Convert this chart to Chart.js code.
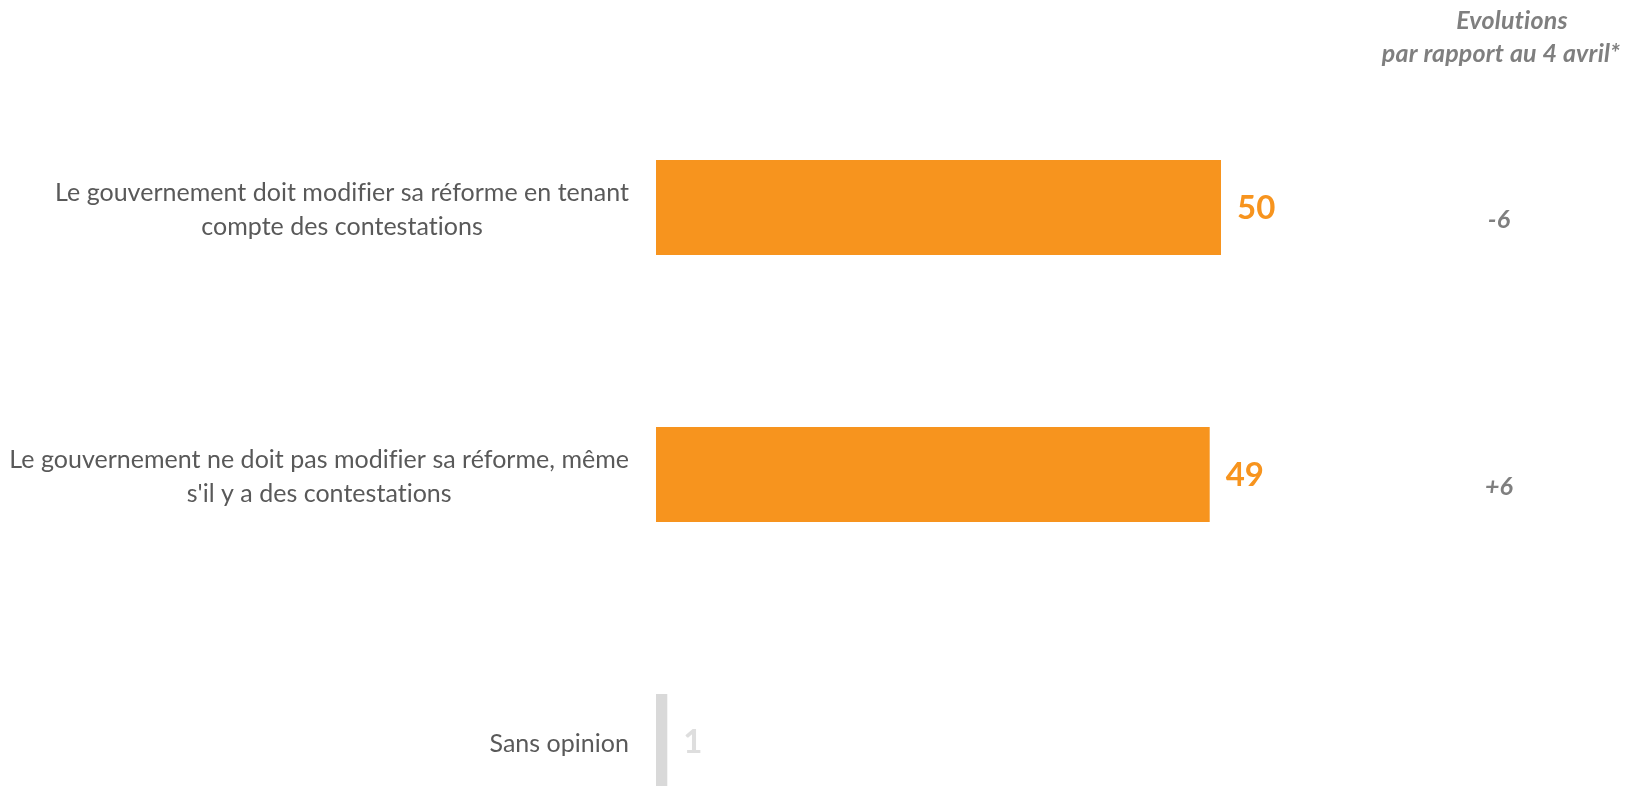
<!DOCTYPE html>
<html>
<head>
<meta charset="utf-8">
<script src="https://cdn.jsdelivr.net/npm/chart.js@4.4.1/dist/chart.umd.min.js"></script>
<style>
  html, body { margin: 0; padding: 0; background: #ffffff; overflow: hidden; }
  #wrap { position: relative; width: 1628px; height: 900px; }
</style>
</head>
<body>
<div id="wrap"><canvas id="c"></canvas></div>
<script>
const categories = [
  ["Le gouvernement doit modifier sa réforme en tenant", "compte des contestations"],
  ["Le gouvernement ne doit pas modifier sa réforme, même", "s'il y a des contestations"],
  ["Sans opinion"]
];
const values = [50, 49, 1];
const evolutions = ["-6", "+6", ""];
const evolutionHeader = ["Evolutions", "par rapport au 4 avril*"];

const FONT = "Lato, 'Open Sans', sans-serif";
const barColors = ["#F7941E", "#F7941E", "#D9D9D9"];
const valueColors = ["#F7941E", "#F7941E", "#DEDEDE"];

const overlay = {
  id: 'overlay',
  afterDatasetsDraw(chart) {
    const ctx = chart.ctx;
    const y = chart.scales.y;
    const meta = chart.getDatasetMeta(0);
    ctx.save();
    // category labels: lines centered, block right-aligned
    if ('letterSpacing' in ctx) ctx.letterSpacing = '0.02px';
    ctx.font = "25px " + FONT;
    ctx.fillStyle = "#595959";
    ctx.textBaseline = "middle";
    ctx.textAlign = "center";
    const rightEdge = chart.chartArea.left - 27;
    const lh = 34;
    categories.forEach((lines, i) => {
      const cy = y.getPixelForValue(i) + 2;
      const maxW = Math.max(...lines.map(l => ctx.measureText(l).width));
      const cx = rightEdge - maxW / 2;
      const y0 = cy - (lines.length - 1) * lh / 2;
      lines.forEach((l, k) => ctx.fillText(l, cx, y0 + k * lh));
    });
    // value labels
    ctx.font = "bold 33px " + FONT;
    ctx.textAlign = "left";
    meta.data.forEach((bar, i) => {
      ctx.fillStyle = valueColors[i];
      ctx.fillText(String(values[i]), bar.x + 16, bar.y + 1);
    });
    // evolutions
    if ('letterSpacing' in ctx) ctx.letterSpacing = '0.2px';
    ctx.font = "italic bold 25px " + FONT;
    ctx.fillStyle = "#7F7F7F";
    ctx.textAlign = "center";
    evolutions.forEach((e, i) => {
      if (e) ctx.fillText(e, 1499, y.getPixelForValue(i) + 12);
    });
    ctx.fillText(evolutionHeader[0], 1512, 21);
    ctx.fillText(evolutionHeader[1], 1501, 54);
    ctx.restore();
  }
};

new Chart(document.getElementById('c'), {
  type: 'bar',
  data: {
    labels: categories,
    datasets: [{
      data: values,
      backgroundColor: barColors,
      borderWidth: 0,
      categoryPercentage: 1,
      barPercentage: 0.356
    }]
  },
  options: {
    indexAxis: 'y',
    responsive: true,
    maintainAspectRatio: false,
    animation: false,
    layout: { padding: { left: 656, right: 68, top: 74, bottom: 25 } },
    plugins: { legend: { display: false }, tooltip: { enabled: false } },
    scales: {
      x: { display: false, min: 0, max: 80 },
      y: { display: false }
    }
  },
  plugins: [overlay]
});
</script>
</body>
</html>
